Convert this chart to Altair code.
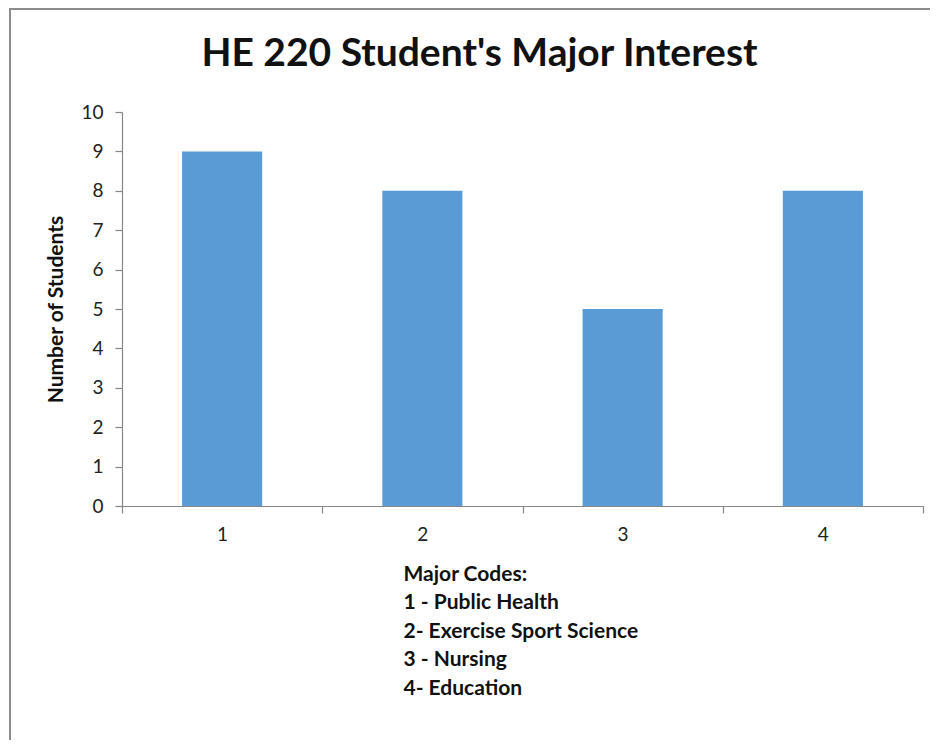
import altair as alt
import pandas as pd

codes = ["1", "2", "3", "4"]
students = [9, 8, 5, 8]
major_codes = [
    "Major Codes:",
    "1 - Public Health",
    "2- Exercise Sport Science",
    "3 - Nursing",
    "4- Education",
]
title_text = "HE 220 Student's Major Interest"
y_title = "Number of Students"

df = pd.DataFrame({"code": codes, "students": students})
FONT = "Lato"

bars = alt.Chart(df).mark_bar(
    color="#5B9BD5", width=alt.RelativeBandSize(0.4)
).encode(
    x=alt.X(
        "code:N",
        sort=codes,
        scale=alt.Scale(paddingInner=0, paddingOuter=0),
        axis=alt.Axis(
            title=major_codes,
            titleFont=FONT,
            titleFontSize=21,
            titleFontWeight="bold",
            titleColor="#111111",
            titleAlign="left",
            titleBaseline="alphabetic",
            titleAnchor="start",
            titleLineHeight=28.5,
            titleX=281,
            titleY=74,
            labelAngle=0,
            labelFont=FONT,
            labelFontSize=19,
            labelColor="#222222",
            labelPadding=12,
            tickBand="extent",
            tickSize=7,
            tickColor="#868686",
            domainColor="#868686",
            domainWidth=1.2,
            tickWidth=1.2,
        ),
    ),
    y=alt.Y(
        "students:Q",
        scale=alt.Scale(domain=[0, 10], nice=False),
        axis=alt.Axis(
            title=y_title,
            titleFont=FONT,
            titleFontSize=21,
            titleFontWeight="bold",
            titleColor="#111111",
            titlePadding=14,
            values=list(range(0, 11)),
            grid=False,
            labelFont=FONT,
            labelFontSize=19,
            labelColor="#222222",
            labelPadding=12,
            tickSize=7,
            tickColor="#868686",
            domainColor="#868686",
            domainWidth=1.2,
            tickWidth=1.2,
        ),
    ),
)

border = alt.Chart(pd.DataFrame({"a": [0]})).mark_rect(
    fill=None, stroke="#8c8c8c", strokeWidth=2
).encode(
    x=alt.value(-112), x2=alt.value(840),
    y=alt.value(-103), y2=alt.value(700),
)

chart = alt.layer(border, bars).properties(
    width=801,
    height=394,
    padding={"left": 114, "top": 104, "right": 7, "bottom": 234},
    autosize=alt.AutoSizeParams(type="none"),
    title=alt.TitleParams(
        text=title_text,
        font=FONT,
        fontSize=39,
        fontWeight="bold",
        color="#111111",
        anchor="middle",
        frame="group",
        dx=-43,
        baseline="alphabetic",
        offset=-97,
    ),
).configure_view(stroke=None)

chart.save("out.html", embed_options={"renderer": "svg", "actions": False})
